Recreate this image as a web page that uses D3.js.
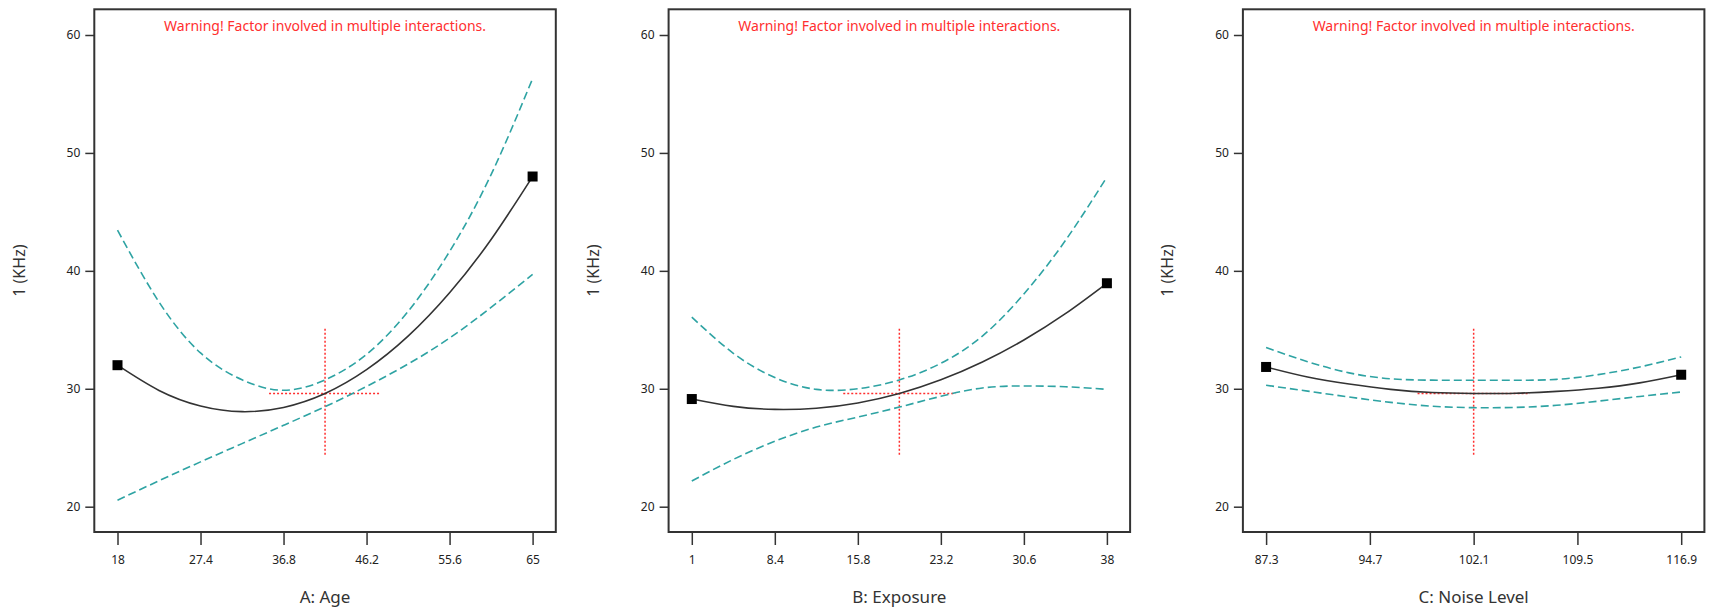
<!DOCTYPE html>
<html><head><meta charset="utf-8">
<script src="https://cdn.jsdelivr.net/npm/d3@7"></script>
<style>body{margin:0;background:#fff} svg{display:block}</style>
</head><body><svg id="c" width="1709" height="613"></svg>
<script>
// ---------- data ----------
const factorNames = ["A: Age", "B: Exposure", "C: Noise Level"];
const yLabel = "1 (KHz)";
const warningText = "Warning! Factor involved in multiple interactions.";
const yTicks = [20, 30, 40, 50, 60];

const ageTicks = [18, 27.4, 36.8, 46.2, 55.6, 65];
const ageX     = [18, 22.7, 27.4, 32.1, 36.8, 41.5, 46.2, 50.9, 55.6, 60.3, 65];
const ageFit   = [32.0, 29.86, 28.54, 28.06, 28.42, 29.6, 31.62, 34.46, 38.14, 42.66, 48.0];
const ageUpper = [43.45, 37.36, 33.04, 30.76, 29.87, 30.75, 32.92, 36.56, 41.64, 48.16, 56.3];
const ageLower = [20.55, 22.2, 23.8, 25.35, 26.9, 28.48, 30.2, 32.1, 34.3, 36.9, 39.7];

const expTicks = [1, 8.4, 15.8, 23.2, 30.6, 38];
const expX     = [1, 4.7, 8.4, 12.1, 15.8, 19.5, 23.2, 26.9, 30.6, 34.3, 38];
const expFit   = [29.13, 28.51, 28.25, 28.35, 28.80, 29.6, 30.76, 32.27, 34.14, 36.37, 38.95];
const expUpper = [36.08, 33.01, 30.95, 29.95, 30.0, 30.75, 32.16, 34.47, 38.04, 42.57, 47.95];
const expLower = [22.18, 24.01, 25.55, 26.75, 27.6, 28.45, 29.36, 30.07, 30.24, 30.17, 29.95];

const noiseTicks = [87.3, 94.7, 102.1, 109.5, 116.9];
const noiseX     = [87.3, 90.26, 93.22, 96.18, 99.14, 102.1, 105.06, 108.02, 110.98, 113.94, 116.9];
const noiseFit   = [31.85, 31.0, 30.4, 29.95, 29.68, 29.6, 29.62, 29.78, 30.05, 30.5, 31.19];
const noiseUpper = [33.5, 32.3, 31.35, 30.85, 30.73, 30.72, 30.72, 30.8, 31.2, 31.85, 32.7];
const noiseLower = [30.3, 29.8, 29.3, 28.85, 28.52, 28.4, 28.42, 28.6, 28.95, 29.35, 29.73];

// crosshair (current factor settings / predicted response)
const crossCenter = [41.5, 19.5, 102.1];
const crossHFrom  = [35.16, 14.5, 98.1];
const crossHTo    = [47.84, 24.5, 106.1];
const crossValue  = 29.6;
const crossVFrom  = 24.4;
const crossVTo    = 35.1;

const panels = [
  {ticks: ageTicks, x: ageX, fit: ageFit, up: ageUpper, lo: ageLower},
  {ticks: expTicks, x: expX, fit: expFit, up: expUpper, lo: expLower},
  {ticks: noiseTicks, x: noiseX, fit: noiseFit, up: noiseUpper, lo: noiseLower}
];

// ---------- layout ----------
const FONT = "'Noto Sans', 'Open Sans', sans-serif";
const panelLeft0 = 94.3, panelStep = 574.3, panelW = 461.5;
const frameTop = 9.3, frameBottom = 532;
const pad = 23.2;
const teal = "#2ea3a3", red = "#ff2f2f", ink = "#333";

const svg = d3.select("#c");
const y = d3.scaleLinear().domain([20, 60]).range([506.7, 35]);

panels.forEach((p, i) => {
  const L = panelLeft0 + i * panelStep;
  const R = L + panelW;
  const g = svg.append("g");
  const x = d3.scaleLinear().domain(d3.extent(p.ticks)).range([L + pad, R - pad]);

  // frame
  g.append("rect").attr("x", L).attr("y", frameTop)
    .attr("width", panelW).attr("height", frameBottom - frameTop)
    .attr("fill", "none").attr("stroke", ink).attr("stroke-width", 2);

  // y axis
  const ya = g.append("g").attr("transform", `translate(${L},0)`)
    .call(d3.axisLeft(y).tickValues(yTicks).tickSize(9).tickPadding(5));
  ya.select(".domain").remove();
  ya.selectAll("line").attr("stroke", ink).attr("stroke-width", 1.5);
  ya.selectAll("text").attr("font-family", FONT).attr("font-size", 12).attr("fill", "#222");

  // x axis
  const xa = g.append("g").attr("transform", `translate(0,${frameBottom})`)
    .call(d3.axisBottom(x).tickValues(p.ticks).tickFormat(d => String(d)).tickSize(13).tickPadding(10));
  xa.select(".domain").remove();
  xa.selectAll("line").attr("stroke", ink).attr("stroke-width", 1.5);
  xa.selectAll("text").attr("font-family", FONT).attr("font-size", 12).attr("fill", "#222");

  // axis titles
  g.append("text").attr("x", (L + R) / 2).attr("y", 603)
    .attr("text-anchor", "middle").attr("font-family", FONT).attr("font-size", 17)
    .attr("fill", ink).text(factorNames[i]);
  g.append("text").attr("transform", `translate(${L - 74},${(frameTop + frameBottom) / 2}) rotate(-90)`)
    .attr("text-anchor", "middle").attr("dominant-baseline", "middle")
    .attr("font-family", FONT).attr("font-size", 16).attr("fill", ink).text(yLabel);

  // warning
  g.append("text").attr("x", (L + R) / 2).attr("y", 31)
    .attr("text-anchor", "middle").attr("font-family", FONT).attr("font-size", 14)
    .attr("fill", red).text(warningText);

  const line = d3.line().x(d => x(d[0])).y(d => y(d[1])).curve(d3.curveNatural);
  const zip = arr => p.x.map((v, k) => [v, arr[k]]);

  // crosshair
  g.append("line").attr("x1", x(crossCenter[i])).attr("x2", x(crossCenter[i]))
    .attr("y1", y(crossVFrom)).attr("y2", y(crossVTo))
    .attr("stroke", red).attr("stroke-width", 1.5).attr("stroke-dasharray", "2,2");
  g.append("line").attr("x1", x(crossHFrom[i])).attr("x2", x(crossHTo[i]))
    .attr("y1", y(crossValue)).attr("y2", y(crossValue))
    .attr("stroke", red).attr("stroke-width", 1.5).attr("stroke-dasharray", "2,2");

  // confidence bands
  [p.up, p.lo].forEach(arr => {
    g.append("path").attr("d", line(zip(arr))).attr("fill", "none")
      .attr("stroke", teal).attr("stroke-width", 1.6).attr("stroke-dasharray", "8,4");
  });

  // fitted line
  g.append("path").attr("d", line(zip(p.fit))).attr("fill", "none")
    .attr("stroke", ink).attr("stroke-width", 1.6);

  // end markers
  const ends = [0, p.x.length - 1];
  g.selectAll("rect.mk").data(ends).enter().append("rect").attr("class", "mk")
    .attr("x", k => x(p.x[k]) - 5).attr("y", k => y(p.fit[k]) - 5)
    .attr("width", 10).attr("height", 10).attr("fill", "#000");
});
</script>
</body></html>
